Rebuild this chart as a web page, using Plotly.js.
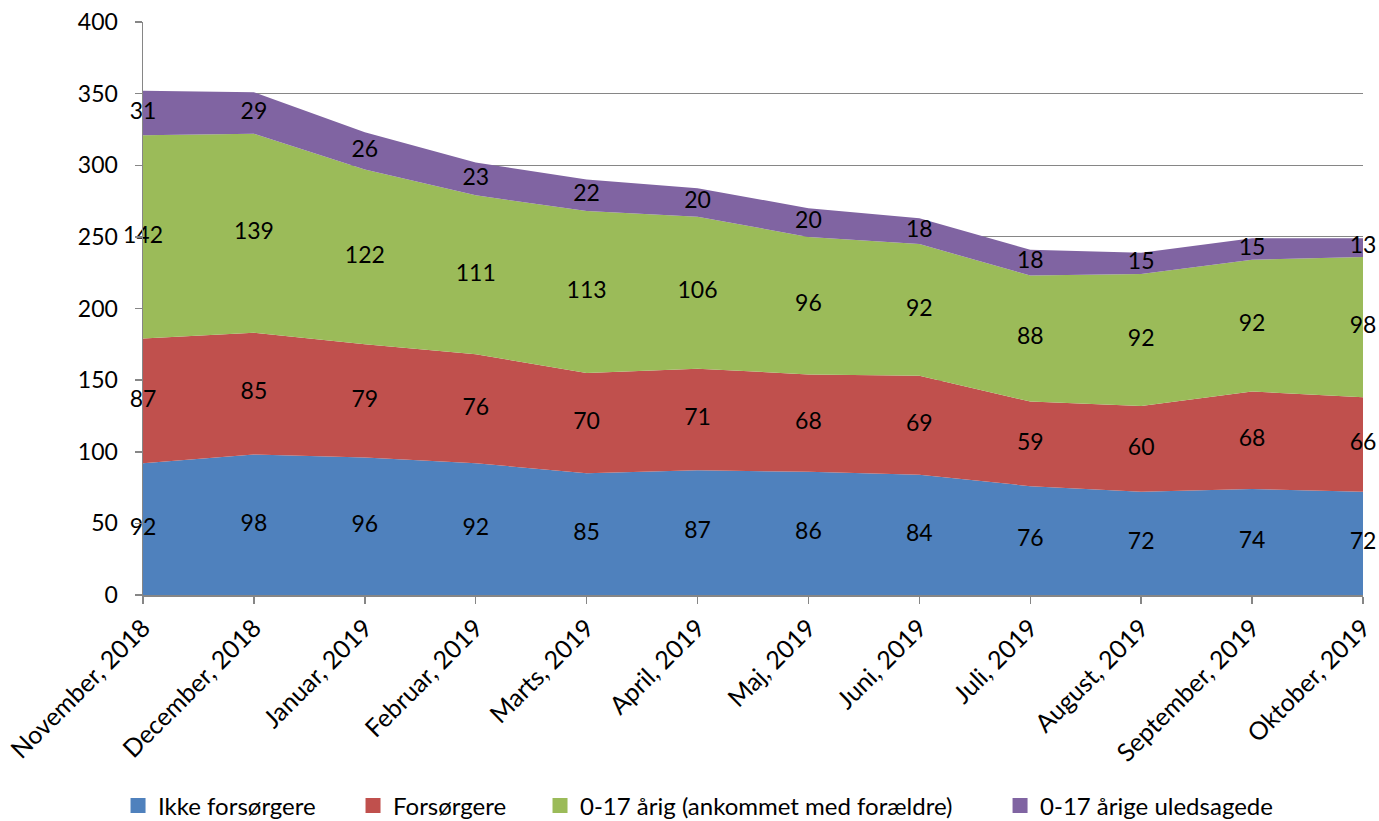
<!DOCTYPE html>
<html><head><meta charset="utf-8">
<script src="https://cdn.plot.ly/plotly-3.0.1.min.js"></script>
<style>html,body{margin:0;padding:0;background:#fff}#c{width:1379px;height:821px}</style>
</head><body><div id="c"></div>
<script>
const months = ["November, 2018","December, 2018","Januar, 2019","Februar, 2019","Marts, 2019","April, 2019","Maj, 2019","Juni, 2019","Juli, 2019","August, 2019","September, 2019","Oktober, 2019"];
const ikke = [92,98,96,92,85,87,86,84,76,72,74,72];
const forsorgere = [87,85,79,76,70,71,68,69,59,60,68,66];
const med = [142,139,122,111,113,106,96,92,88,92,92,98];
const uled = [31,29,26,23,22,20,20,18,18,15,15,13];
const seriesNames = ["Ikke forsørgere","Forsørgere","0-17 årig (ankommet med forældre)","0-17 årige uledsagede"];
const colors = ["#4f81bd","#c0504d","#9bbb59","#8064a2"];
const series = [ikke, forsorgere, med, uled];

const FONT = "Lato, 'Open Sans', sans-serif";
const legendIds = ["legend","legend2","legend3","legend4"];
const legendX = [0.0856,0.256,0.3916,0.7252];
const traces = [];
series.forEach((s,i)=>{
  traces.push({x:months,y:s,name:seriesNames[i],type:"scatter",mode:"none",stackgroup:"one",
    fillcolor:colors[i],line:{width:0},hoverinfo:"y+name",showlegend:false});
});
// data labels at segment centres
const base = months.map(()=>0);
series.forEach((s,i)=>{
  const ys = s.map((v,k)=>base[k]+v/2);
  traces.push({x:months,y:ys,text:s.map(String),type:"scatter",mode:"text",showlegend:false,cliponaxis:false,
    hoverinfo:"skip",textfont:{family:FONT,size:23,color:"#000"},textposition:"middle center"});
  s.forEach((v,k)=>base[k]+=v);
});
// legend entries with square swatches
series.forEach((s,i)=>{
  traces.push({x:[months[0]],y:[null],name:seriesNames[i],type:"scatter",mode:"markers",legend:legendIds[i],
    marker:{symbol:"square",size:15,color:colors[i]},hoverinfo:"skip",showlegend:true});
});

const layout = {
  width:1379,height:821,
  margin:{l:143,r:16,t:22,b:226},
  paper_bgcolor:"#fff",plot_bgcolor:"#fff",
  font:{family:FONT,size:22,color:"#000"},
  xaxis:{type:"category",range:[0,11],tickangle:-45,showgrid:false,showline:true,linecolor:"#868686",linewidth:1.5,automargin:false,
    ticks:"outside",ticklen:7,tickcolor:"#868686",tickwidth:1.5,tickfont:{family:FONT,size:25,color:"#000"},zeroline:false},
  yaxis:{range:[0,400],dtick:50,showgrid:true,gridcolor:"#868686",gridwidth:1,showline:true,linecolor:"#868686",linewidth:1.5,automargin:false,
    ticks:"outside",ticklen:7,tickcolor:"#868686",tickwidth:1.5,ticklabelstandoff:12,tickfont:{family:FONT,size:23,color:"#000"},zeroline:false},
  showlegend:true,
};
legendIds.forEach((id,i)=>{
  layout[id] = {orientation:"h",xref:"container",yref:"container",x:legendX[i],xanchor:"left",y:0.0183,yanchor:"middle",
    font:{family:FONT,size:24,color:"#000"},itemwidth:30,bgcolor:"rgba(0,0,0,0)"};
});
Plotly.newPlot("c",traces,layout,{displayModeBar:false,staticPlot:true});
</script></body></html>
